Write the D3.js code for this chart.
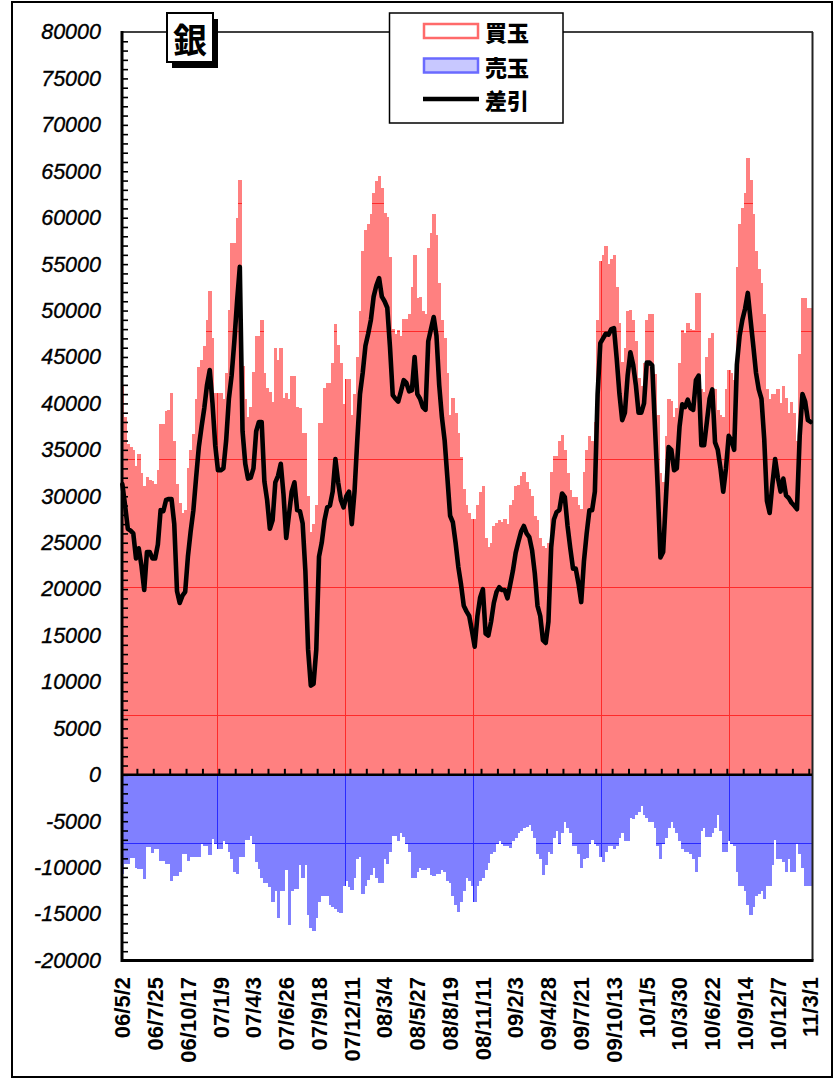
<!DOCTYPE html>
<html><head><meta charset="utf-8">
<script src="https://cdn.jsdelivr.net/npm/d3@7"></script>
<style>body{margin:0;background:#fff}svg{display:block}</style>
</head><body>
<svg id="c" width="835" height="1080"></svg>
<script>
const titleText = "銀";
const legendLabels = ["買玉", "売玉", "差引"];
const startDate = "2006-05-02";
const xTickLabels = ["06/5/2","06/7/25","06/10/17","07/1/9","07/4/3","07/6/26","07/9/18","07/12/11","08/3/4","08/5/27","08/8/19","08/11/11","09/2/3","09/4/28","09/7/21","09/10/13","10/1/5","10/3/30","10/6/22","10/9/14","10/12/7","11/3/1"];
const yTickValues = [80000,75000,70000,65000,60000,55000,50000,45000,40000,35000,30000,25000,20000,15000,10000,5000,0,-5000,-10000,-15000,-20000];

const buyValues = [
42000,38500,35600,35300,35000,33300,34500,32500,31100,32100,
31800,31600,31300,32800,37800,37800,39200,39300,41100,36000,
31300,29300,28200,28500,33000,35000,36700,40500,43900,44700,
46200,49000,52100,47000,41100,41100,41100,40500,43300,50100,
57300,57300,60000,64100,44000,40500,38500,39600,43400,47300,
47300,49000,43300,41700,41200,40100,46000,44700,46000,40600,
41100,40500,43000,43000,39600,39500,36800,36800,30000,26100,
27000,29100,37900,37900,41700,42200,42200,44400,48500,46300,
44400,39900,42600,42600,38700,41000,45000,50000,56400,58700,
59300,60400,62700,63900,64500,63200,60500,60100,55800,48000,
47500,47900,47300,49100,49100,49600,52500,56000,51300,51500,
49900,49600,56700,58400,60400,58100,53000,49000,47000,43300,
38700,40600,39000,36800,34200,30800,29100,28200,27500,27500,
29100,30500,31100,25500,24500,25000,26800,27100,27400,27200,
27500,27000,29100,29600,31100,31200,32200,32600,31500,30800,
30000,27900,27400,25500,24600,24400,25000,32600,34300,34300,
35900,36600,35000,32500,30700,29900,29900,29100,28600,32600,
35000,36500,35900,38000,49000,55300,56000,57000,55000,55600,
56000,52500,48700,44500,46000,50000,50100,49000,46700,42700,
41900,44400,49000,49600,49600,43200,38700,32500,31500,36500,
40500,40300,38500,39500,44300,47900,47600,48700,48000,47900,
51900,51900,41500,41200,45000,47000,47600,41500,39300,38700,
38500,41500,43600,43300,42500,54700,59300,61000,62700,66400,
64100,60400,56400,54500,53000,49600,41500,40500,41000,41000,
41600,40000,41900,40600,39000,40200,39000,36000,45300,51300,
51300,50300,50300];

const sellValues = [
-10700,-9600,-9600,-9000,-9000,-10000,-10100,-10100,-11200,-7800,
-7800,-8400,-8000,-8000,-9300,-9300,-9600,-9600,-11400,-10900,
-10900,-10500,-8500,-8500,-9300,-8900,-8900,-8800,-8800,-7400,
-7650,-7650,-8600,-6900,-7400,-8000,-8000,-7100,-7500,-8300,
-9100,-10500,-10700,-8800,-8800,-7000,-7000,-6600,-7400,-9400,
-10100,-11100,-11700,-11700,-12100,-13700,-12500,-15400,-12500,-12500,
-10300,-16200,-12500,-12300,-12300,-9700,-11100,-9700,-15100,-16500,
-16800,-15400,-13700,-13100,-13100,-13100,-14000,-14200,-14500,-14800,
-14900,-12000,-11400,-12100,-12400,-11100,-9100,-8800,-12800,-12000,
-11300,-10800,-10000,-11100,-11700,-11700,-9100,-9600,-8300,-6600,
-6600,-7100,-6300,-6700,-7400,-8300,-11100,-11100,-10500,-10000,
-10300,-10300,-10000,-10800,-10900,-10700,-10700,-10300,-10500,-11400,
-11700,-13100,-14000,-14800,-13700,-12500,-11100,-11400,-12000,-13700,
-12000,-11400,-11100,-10300,-9500,-8500,-8300,-7400,-7100,-7400,
-7700,-7700,-7900,-7100,-6800,-6300,-6000,-5700,-5600,-5400,
-6000,-6800,-8500,-9100,-10800,-9700,-8300,-8500,-6800,-6000,
-7400,-6300,-5100,-5700,-6300,-7700,-7700,-8500,-10000,-9100,
-9000,-7400,-7000,-7500,-7700,-8800,-9400,-8300,-7700,-7700,
-8000,-7700,-6800,-6300,-7100,-7100,-4600,-4800,-4300,-4000,
-3400,-4300,-4600,-5100,-5100,-5700,-7700,-9100,-7500,-6800,
-5700,-5100,-5700,-6300,-7100,-8000,-8300,-8300,-8500,-9100,
-10500,-8800,-6000,-5700,-6700,-6700,-6300,-5700,-4300,-6000,
-8300,-8300,-7100,-7400,-7700,-10500,-12000,-12000,-12500,-14000,
-15100,-14200,-13100,-12800,-12500,-13400,-12000,-12000,-9700,-7000,
-9100,-9100,-9400,-10500,-9100,-10500,-10500,-7400,-8500,-10000,
-12000,-12000,-12000];

const netValues = [
31300,29000,26500,26300,26000,23300,24400,22500,19900,24000,
24000,23300,23300,24800,28500,28400,29600,29700,29700,27000,
19800,18500,19300,19700,23500,26200,28500,32000,35300,37500,
39500,42000,43600,40000,35500,32800,32800,33000,36000,40500,
43000,46700,51000,54700,37000,33500,31900,32000,33000,37000,
38000,38000,31600,29600,26500,27400,31500,32200,33500,30200,
25500,28000,30500,31500,28500,28400,27100,22000,13500,9600,
9800,13500,23500,25000,27400,28800,29000,30500,34000,31500,
29600,28800,30000,30500,27000,30500,36000,41000,43300,46200,
47500,49000,51500,52700,53500,51500,51000,50300,46000,40900,
40500,40200,41300,42500,42200,41300,41400,45000,41000,40500,
39600,39300,46700,48000,49300,47300,42000,38500,36000,32000,
27900,27200,25000,22400,20500,18200,17600,17100,15500,13800,
17100,19100,20000,15200,15000,16500,18500,19700,20200,19900,
19900,19000,20500,22000,23900,25100,26200,26800,26000,25600,
24200,21700,18200,17100,14500,14200,16500,24500,27500,28300,
28500,30300,29900,26800,24400,22200,22200,20600,18600,23000,
26000,28500,28500,30500,41000,46500,47000,47500,47400,48000,
48100,44800,41000,38200,39000,43000,45500,44200,42000,39000,
39000,40000,44400,44400,44100,37500,31000,23400,24000,29700,
35300,35000,32800,33000,37500,39900,39600,40400,39500,39300,
42500,43000,35500,35500,38000,40500,41500,35800,35000,33000,
30500,33000,36500,36000,35000,44200,47300,49000,50200,51900,
49000,46200,43300,41500,40500,36200,29500,28200,31300,34000,
32000,30500,31900,30100,29800,29300,29000,28600,36500,41000,
40200,38200,38000];

// weekly category labels (one per data point)
const parseD = d3.timeParse("%Y-%m-%d");
const fmtD = d3.timeFormat("%y/%-m/%-d");
const categories = buyValues.map((_, i) => fmtD(d3.timeDay.offset(parseD(startDate), 7 * i)));

const svg = d3.select("#c");
const P = {left: 121, right: 812, top: 32, bottom: 960.5};
const x = d3.scaleBand().domain(categories).range([P.left, P.right]).padding(0);
const y = d3.scaleLinear().domain([d3.min(yTickValues), d3.max(yTickValues)]).range([P.bottom, P.top]);
const bw = x.bandwidth();
const FONT = "'Liberation Sans', Arial, Helvetica, sans-serif";
const CJK = "'Noto Sans CJK JP', 'Noto Sans CJK SC', sans-serif";
const RED = "#ff8080", BLUE = "#8080ff";

const defs = svg.append("defs");
function tile(id, color) {
  const p = defs.append("pattern").attr("id", id).attr("patternUnits", "userSpaceOnUse")
    .attr("x", 89).attr("y", 75).attr("width", 128).attr("height", 128);
  p.append("path").attr("d", "M0.5,0V128M0,0.5H128").attr("stroke", color).attr("stroke-width", 1).attr("fill", "none");
}
tile("tileR", "#ff2a2a");
tile("tileB", "#2a2aff");

// outer frame
svg.append("rect").attr("x", 12).attr("y", 2).attr("width", 820).attr("height", 1075)
  .attr("fill", "#fff").attr("stroke", "#000").attr("stroke-width", 2);

// bars
function drawBars(vals, fill) {
  const g = svg.append("g").attr("shape-rendering", "crispEdges");
  g.selectAll("rect").data(vals).join("rect")
    .attr("x", (d, i) => x(categories[i]))
    .attr("width", bw + 0.6)
    .attr("y", d => d >= 0 ? y(d) : y(0))
    .attr("height", d => Math.abs(y(d) - y(0)))
    .attr("fill", fill);
}
drawBars(buyValues, RED);
drawBars(sellValues, BLUE);
drawBars(buyValues, "url(#tileR)");
drawBars(sellValues, "url(#tileB)");

// plot border lines
svg.append("line").attr("x1", P.left).attr("x2", P.right + 1).attr("y1", P.top).attr("y2", P.top).attr("stroke", "#000").attr("stroke-width", 1.5);
svg.append("line").attr("x1", P.right + 0.5).attr("x2", P.right + 0.5).attr("y1", P.top).attr("y2", P.bottom).attr("stroke", "#222").attr("stroke-width", 2);
svg.append("line").attr("x1", P.left).attr("x2", P.right + 1.5).attr("y1", P.bottom).attr("y2", P.bottom).attr("stroke", "#000").attr("stroke-width", 3);

// zero line with ticks
svg.append("line").attr("x1", P.left).attr("x2", P.right).attr("y1", y(0)).attr("y2", y(0)).attr("stroke", "#000").attr("stroke-width", 2.6);
const zt = categories.filter((c, i) => i > 0 && i % 6 === 0);
svg.append("g").selectAll("line").data(zt).join("line")
  .attr("x1", d => x(d)).attr("x2", d => x(d))
  .attr("y1", y(0)).attr("y2", y(0) - 6)
  .attr("stroke", "#000").attr("stroke-width", 2);

// net line
const line = d3.line().x((d, i) => x(categories[i]) + bw / 2).y(d => y(d));
svg.append("path").datum(netValues).attr("d", line)
  .attr("fill", "none").attr("stroke", "#000").attr("stroke-width", 4.6)
  .attr("stroke-linejoin", "round").attr("stroke-linecap", "round");

// left axis: minor ticks
const minorG = svg.append("g").attr("transform", `translate(${P.left + 1},0)`)
  .call(d3.axisRight(y).tickValues(d3.range(-19000, 80000, 1000)).tickSize(6).tickFormat(""));
minorG.select(".domain").remove();
minorG.selectAll("line").attr("stroke-width", 1.6);
svg.append("line").attr("x1", P.left + 1).attr("x2", P.left + 1).attr("y1", P.top - 1).attr("y2", P.bottom + 1.5)
  .attr("stroke", "#000").attr("stroke-width", 3);

// y labels
const labG = svg.append("g").attr("transform", "translate(101,0)")
  .call(d3.axisLeft(y).tickValues(yTickValues).tickSize(0).tickPadding(0).tickFormat(d => String(d)));
labG.select(".domain").remove();
labG.selectAll("text").attr("font-family", FONT).attr("font-size", 21.5).attr("font-style", "italic")
  .attr("fill", "#000").attr("stroke", "#000").attr("stroke-width", 0.35);

// x labels
svg.append("g").selectAll("text").data(xTickLabels).join("text")
  .attr("transform", d => `translate(${x(d) + bw / 2 + 2},977) rotate(-90)`)
  .attr("text-anchor", "end").attr("dominant-baseline", "middle")
  .attr("font-family", FONT).attr("font-weight", "bold").attr("font-size", 22)
  .text(d => d);

// title box
svg.append("rect").attr("x", 172).attr("y", 19).attr("width", 46).attr("height", 49).attr("fill", "#000");
svg.append("rect").attr("x", 167).attr("y", 13).attr("width", 46).attr("height", 49).attr("fill", "#fff").attr("stroke", "#000").attr("stroke-width", 2);
svg.append("text").attr("x", 190).attr("y", 38).attr("text-anchor", "middle").attr("dominant-baseline", "central")
  .attr("font-family", CJK).attr("font-weight", "bold").attr("font-size", 34).text(titleText);

// legend
const lg = svg.append("g");
lg.append("rect").attr("x", 389.5).attr("y", 13).attr("width", 173.5).attr("height", 110).attr("fill", "#fff").attr("stroke", "#000").attr("stroke-width", 1.5);
const ly = [31, 65.5, 99];
lg.append("rect").attr("x", 424).attr("y", ly[0] - 7).attr("width", 54).attr("height", 14).attr("fill", "#fff").attr("stroke", "#ff6a6a").attr("stroke-width", 2.5);
lg.append("rect").attr("x", 424).attr("y", ly[1] - 7).attr("width", 54).attr("height", 14).attr("fill", "#c8c8ff").attr("stroke", "#6a6aff").attr("stroke-width", 2.5);
lg.append("line").attr("x1", 423).attr("x2", 479).attr("y1", ly[2]).attr("y2", ly[2]).attr("stroke", "#000").attr("stroke-width", 4.6);
lg.selectAll("text").data(legendLabels).join("text")
  .attr("x", 485).attr("y", (d, i) => ly[i]).attr("dominant-baseline", "central")
  .attr("font-family", CJK).attr("font-weight", "900").attr("font-size", 22).text(d => d);
</script>
</body></html>
